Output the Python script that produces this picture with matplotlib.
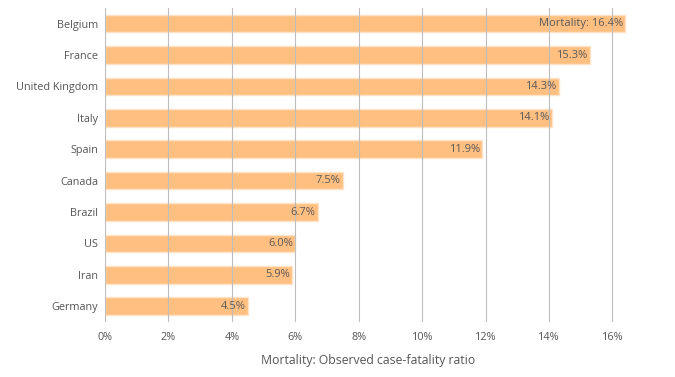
import matplotlib
matplotlib.use("Agg")
import matplotlib.pyplot as plt
from matplotlib.ticker import FuncFormatter

countries = ['Belgium', 'France', 'United Kingdom', 'Italy', 'Spain',
             'Canada', 'Brazil', 'US', 'Iran', 'Germany']
mortality = [16.4, 15.3, 14.3, 14.1, 11.9, 7.5, 6.7, 6.0, 5.9, 4.5]

plt.rcParams['font.family'] = ['Open Sans', 'DejaVu Sans']

fig = plt.figure(figsize=(6.75, 3.77), dpi=100)
ax = fig.add_axes([0.1556, 0.146, 0.78, 0.833])

ypos = list(range(len(countries)))
ax.barh(ypos, mortality, height=0.56, color='#ffbf80', edgecolor='#ffe3c8',
        linewidth=1, zorder=1)
ax.set_yticks(ypos)
ax.set_yticklabels(countries)
ax.set_ylim(len(countries) - 0.5, -0.5)
ax.set_xlim(0, 16.6)
ax.set_xticks(range(0, 17, 2))
ax.xaxis.set_major_formatter(FuncFormatter(lambda v, p: '%d%%' % v))

for i, v in enumerate(mortality):
    txt = ('Mortality: %.1f%%' if i == 0 else '%.1f%%') % v
    ax.text(v - 0.08, i, txt, ha='right', va='center', fontsize=8,
            color='#5a5a5a', zorder=3)

ax.grid(axis='x', color='#bdbdbd', linewidth=0.8, zorder=2)
ax.set_axisbelow(False)
for s in ax.spines.values():
    s.set_visible(False)
ax.tick_params(length=0, labelsize=7.8, labelcolor='#555555')
ax.tick_params(axis='x', pad=7)
ax.tick_params(axis='y', pad=5)
ax.set_xlabel('Mortality: Observed case-fatality ratio', fontsize=8.8,
              color='#555555', labelpad=8)

fig.savefig('out.png', dpi=100)
